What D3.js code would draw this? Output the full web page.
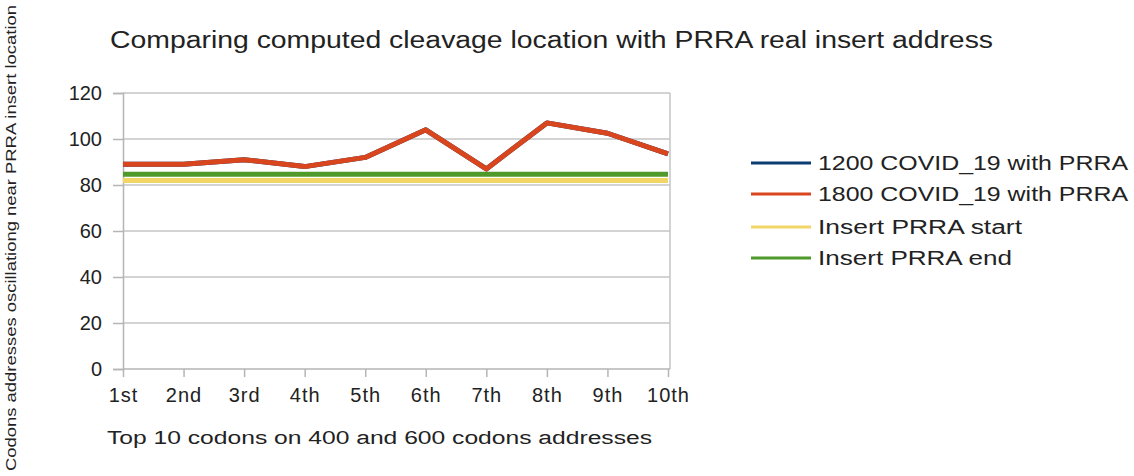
<!DOCTYPE html>
<html>
<head>
<meta charset="utf-8">
<script src="https://cdn.jsdelivr.net/npm/d3@7"></script>
<style>
  body { margin: 0; background: #fff; }
  text { font-family: "Liberation Sans", Arial, sans-serif; fill: #222; }
</style>
</head>
<body>
<svg width="1134" height="476"></svg>
<script>
// data
var categories = ["1st", "2nd", "3rd", "4th", "5th", "6th", "7th", "8th", "9th", "10th"];
var covid1200 = [89, 89, 91, 88, 92, 104, 87, 107, 102.5, 93.5];
var covid1800 = [89, 89, 91, 88, 92, 104, 87, 107, 102.5, 93.5];
var prraStart = [82, 82, 82, 82, 82, 82, 82, 82, 82, 82];
var prraEnd = [84.7, 84.7, 84.7, 84.7, 84.7, 84.7, 84.7, 84.7, 84.7, 84.7];
var yTicks = [0, 20, 40, 60, 80, 100, 120];

var series = [
  { name: "1200 COVID_19 with PRRA", values: covid1200, color: "#0b3d73", width: 5, labelLen: 310 },
  { name: "1800 COVID_19 with PRRA", values: covid1800, color: "#d9461e", width: 5, labelLen: 310 },
  { name: "Insert PRRA start", values: prraStart, color: "#f1d566", width: 5, labelLen: 204 },
  { name: "Insert PRRA end", values: prraEnd, color: "#4f9a2a", width: 5, labelLen: 194 }
];
// drawing order: reference lines under the data lines
var drawOrder = [2, 3, 0, 1];

var plotLeft = 123, plotRight = 668, plotTop = 93, plotBottom = 369;

var svg = d3.select("svg");

var xScale = d3.scalePoint()
  .domain(categories)
  .range([plotLeft, plotRight]);

var yScale = d3.scaleLinear()
  .domain([0, 120])
  .range([plotBottom, plotTop]);

// gridlines
svg.append("g")
  .selectAll("line")
  .data(yTicks.slice(1))
  .enter().append("line")
  .attr("x1", plotLeft)
  .attr("x2", plotRight + 2)
  .attr("y1", function(d) { return yScale(d); })
  .attr("y2", function(d) { return yScale(d); })
  .attr("stroke", "#c4c4c4")
  .attr("stroke-width", 1.5);

// right border
svg.append("line")
  .attr("x1", plotRight + 2).attr("x2", plotRight + 2)
  .attr("y1", plotTop).attr("y2", plotBottom)
  .attr("stroke", "#c4c4c4")
  .attr("stroke-width", 1.5);

// y axis
var yAxis = svg.append("g")
  .attr("transform", "translate(" + plotLeft + ",0)")
  .call(d3.axisLeft(yScale).tickValues(yTicks).tickSize(10).tickPadding(11));
yAxis.selectAll("line, path").attr("stroke", "#b5b5b5").attr("stroke-width", 1.5);
yAxis.selectAll("text")
  .attr("font-size", "20px")
  .style("fill", "#222");

// x axis
var xAxis = svg.append("g")
  .attr("transform", "translate(0," + plotBottom + ")")
  .call(d3.axisBottom(xScale).tickSizeInner(8).tickSizeOuter(0).tickPadding(5));
xAxis.select("path").attr("d", "M" + plotLeft + ",0H" + (plotRight + 2)).attr("stroke", "#b5b5b5").attr("stroke-width", 1.5);
xAxis.selectAll("line").attr("stroke", "#b5b5b5").attr("stroke-width", 1.5);
xAxis.selectAll("text")
  .attr("font-size", "20px")
  .attr("letter-spacing", "1px")
  .attr("dy", "1.0em")
  .style("fill", "#222");

// lines
var line = d3.line()
  .x(function(d, i) { return xScale(categories[i]); })
  .y(function(d) { return yScale(d); });

drawOrder.forEach(function(k) {
  var s = series[k];
  svg.append("path")
    .attr("d", line(s.values))
    .attr("fill", "none")
    .attr("stroke", s.color)
    .attr("stroke-width", s.width)
    .attr("stroke-linejoin", "round");
});

// title
svg.append("text")
  .attr("x", 110)
  .attr("y", 48)
  .attr("font-size", "23px")
  .attr("textLength", 883)
  .attr("lengthAdjust", "spacingAndGlyphs")
  .text("Comparing computed cleavage location with PRRA real insert address");

// x axis title
svg.append("text")
  .attr("x", 107)
  .attr("y", 444)
  .attr("font-size", "18px")
  .attr("textLength", 545)
  .attr("lengthAdjust", "spacingAndGlyphs")
  .text("Top 10 codons on 400 and 600 codons addresses");

// y axis title
svg.append("text")
  .attr("transform", "translate(16,471) rotate(-90)")
  .attr("font-size", "14px")
  .attr("textLength", 466)
  .attr("lengthAdjust", "spacingAndGlyphs")
  .text("Codons addresses oscillationg near PRRA insert location");

// legend
var legendY = [163, 194, 227, 258];
var legend = svg.append("g")
  .selectAll("g")
  .data(series)
  .enter().append("g")
  .attr("transform", function(d, i) { return "translate(751," + legendY[i] + ")"; });

legend.append("line")
  .attr("x1", 0).attr("x2", 60)
  .attr("y1", 0).attr("y2", 0)
  .attr("stroke", function(d) { return d.color; })
  .attr("stroke-width", 3);

legend.append("text")
  .attr("x", 67)
  .attr("y", 0)
  .attr("dy", "0.35em")
  .attr("font-size", "20px")
  .attr("textLength", function(d) { return d.labelLen; })
  .attr("lengthAdjust", "spacingAndGlyphs")
  .text(function(d) { return d.name; });
</script>
</body>
</html>
